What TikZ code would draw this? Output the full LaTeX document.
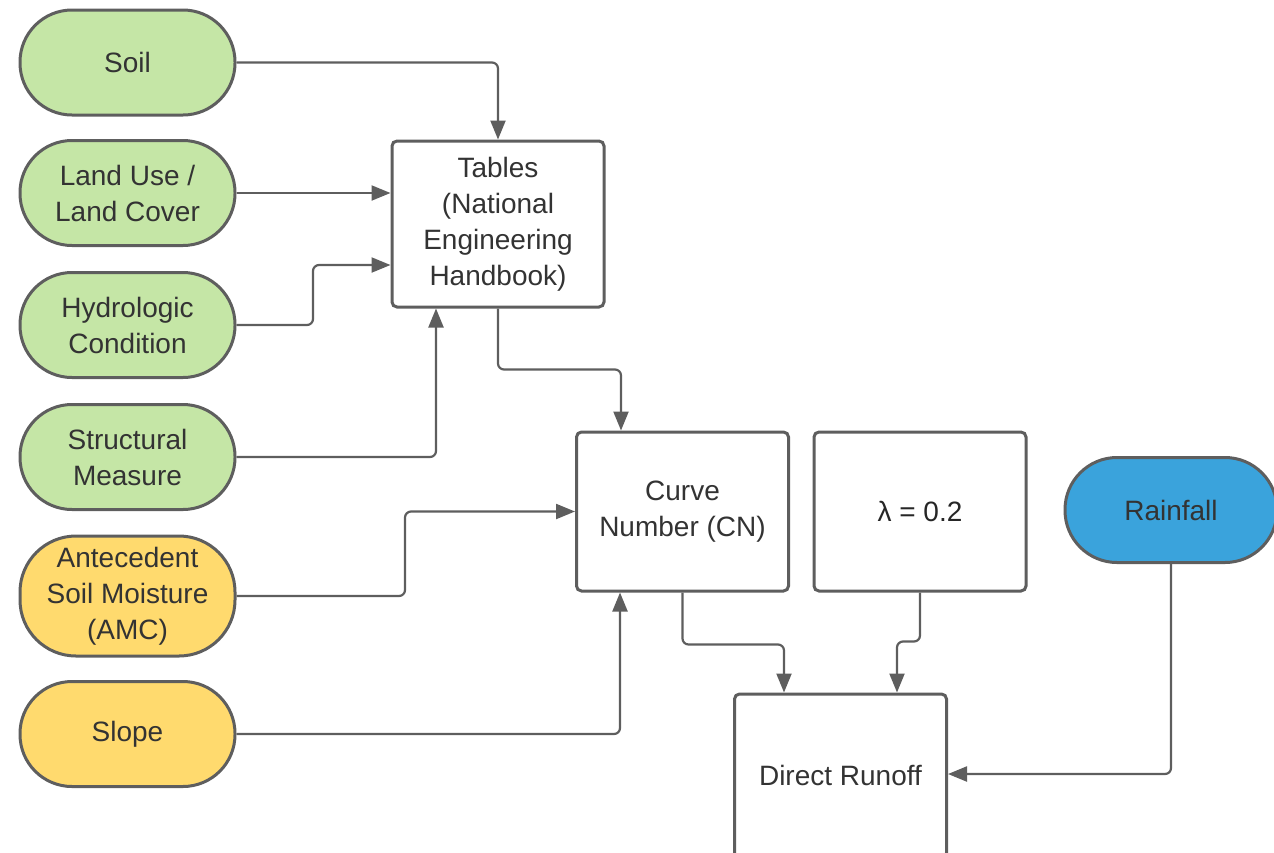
\documentclass[tikz,border=0pt]{standalone}
\usepackage{fontspec}
\setmainfont{Liberation Sans}
\usetikzlibrary{arrows.meta,calc}
\definecolor{edge}{HTML}{5E5E5E}
\definecolor{ink}{HTML}{333333}
\definecolor{leaf}{HTML}{C5E6A6}
\definecolor{sun}{HTML}{FFDA6E}
\definecolor{sky}{HTML}{3AA3DC}
\begin{document}
\begin{tikzpicture}[x=0.5pt,y=-0.5pt,
  every node/.style={font=\fontsize{14pt}{18pt}\selectfont, text=ink, align=center, inner sep=0pt},
  pill/.style={draw=edge, line width=1.5pt, rounded corners=26pt,
    minimum width=107.5pt, minimum height=52.5pt},
  tallpill/.style={pill, minimum height=60pt, rounded corners=28pt},
  panel/.style={draw=edge, line width=1.5pt, rounded corners=2.5pt, fill=white,
    minimum width=106pt},
  conn/.style={draw=edge, line width=1.1pt, rounded corners=3pt,
    -{Triangle[length=9.5pt,width=7.5pt]}}]
\useasboundingbox (0,0) rectangle (1274,852);
\clip (0,0) rectangle (1274,852);

% inputs on the left
\node[pill, fill=leaf] (soil)   at (127.5,62.5) {Soil};
\node[pill, fill=leaf] (land)   at (127.5,193) {Land Use /\\Land Cover};
\node[pill, fill=leaf] (hydro)  at (127.5,325) {Hydrologic\\Condition};
\node[pill, fill=leaf] (struct) at (127.5,457) {Structural\\Measure};
\node[tallpill, fill=sun] (amc) at (127.5,596) {Antecedent\\Soil Moisture\\(AMC)};
\node[pill, fill=sun] (slope)   at (127.5,734) {Slope};

% processing boxes
\node[panel, minimum height=83pt] (tables) at (498,224)
  {Tables\\(National\\Engineering\\Handbook)};
\node[panel, minimum height=79.5pt] (cn) at (682.5,511.5) {Curve\\Number (CN)};
\node[panel, minimum height=79.5pt] (lambda) at (920,511.5) {\textcolor{black!85}{λ = 0.2}};
\node[pill, fill=sky, minimum width=106pt] (rain) at (1171,510) {Rainfall};
% lower edge runs past the page
\node[panel, minimum height=82pt] (direct) at (840.5,776) {\raisebox{1pt}{Direct Runoff}};

% connectors
\draw[conn] (soil.east) -| (tables.north);
\draw[conn] (land.east) -- (land.east -| tables.west);
\draw[conn] (hydro.east) -- (313,325) |- ($(tables.west)+(0,41)$);
\draw[conn] (struct.east) -| ($(tables.south)+(-62,0)$);
\draw[conn] (tables.south) -- ++(0,61) -| ($(cn.north)+(-61.5,0)$);
\draw[conn] (amc.east) -- (405,596) |- (cn.west);
\draw[conn] (slope.east) -| ($(cn.south)+(-62.5,0)$);
\draw[conn] (cn.south) -- ++(0,52) -| ($(direct.north)+(-56.5,0)$);
\draw[conn] (lambda.south) -- ++(0,49) -| ($(direct.north)+(56.5,0)$);
\draw[conn] (rain.south) |- ($(direct.east)+(0,-2)$);
\end{tikzpicture}
\end{document}
